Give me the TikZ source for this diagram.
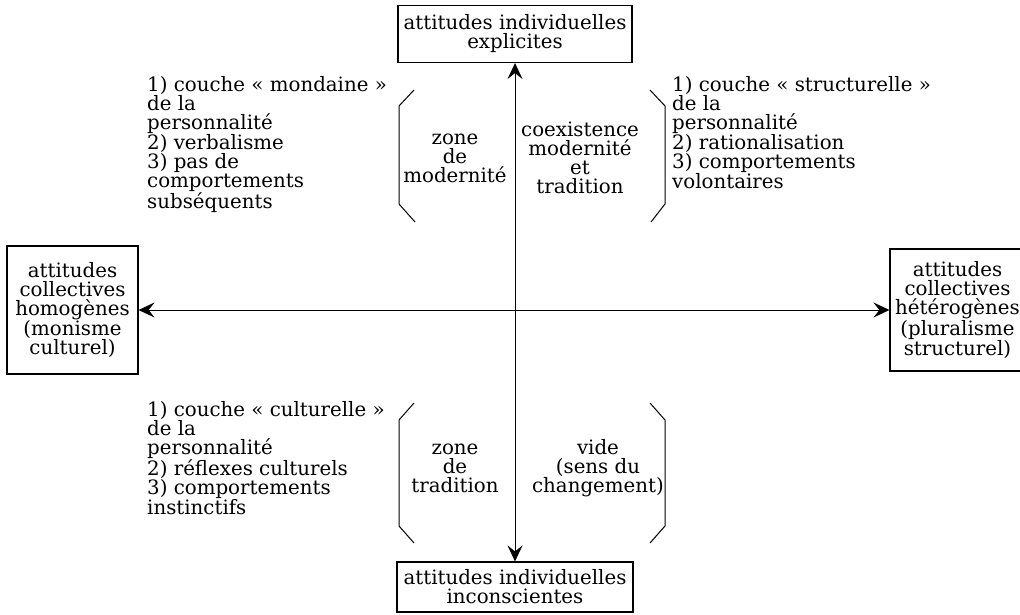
\documentclass[tikz,border=0pt]{standalone}
\usepackage{fontspec}
\newfontfamily\lbl{DejaVu Serif}
\usetikzlibrary{arrows.meta}
\tikzset{
  lf/.style={font=\lbl\fontsize{19.8}{19}\selectfont},
  box/.style={lf, draw, line width=1.1pt, align=center, inner sep=0pt},
  txt/.style={lf, align=left, inner sep=0pt, anchor=north west},
  zone/.style={lf, align=center, inner sep=0pt},
  axis/.style={line width=1pt, {Stealth[length=16pt,width=15pt,inset=6pt]}-{Stealth[length=16pt,width=15pt,inset=6pt]}},
  brk/.style={line width=1pt}
}
\begin{document}
\begin{tikzpicture}[x=1pt,y=-1pt]
\useasboundingbox (0,0) rectangle (1020,615);
\clip (0,0) rectangle (1020,615);
\node[box, minimum width=234, minimum height=57] (tb) at (515,34) {attitudes individuelles\\explicites};
\node[box, minimum width=236, minimum height=50] (bb) at (515,587) {attitudes individuelles\\inconscientes};
\node[box, minimum width=131, minimum height=128] (lb) at (72.5,310) {attitudes\\collectives\\homogènes\\(monisme\\culturel)};
\node[box, minimum width=135, minimum height=122] (rb) at (957.5,310) {attitudes\\collectives\\hétérogènes\\(pluralisme\\structurel)};
\draw[axis] (tb.south) -- (bb.north);
\draw[axis] (lb.east) -- (rb.west);
% brackets
\draw[brk] (414,90) -- (399,106) -- (399,204) -- (415,222);
\draw[brk] (650,90) -- (665,106) -- (665,204) -- (651,222);
\draw[brk] (414,403) -- (399,420) -- (399,526) -- (414,543);
\draw[brk] (650,403) -- (665,420) -- (665,526) -- (650,543);
% zone texts
\node[zone] (zm) at (455,158) {zone\\de\\modernité};
\node[zone] (cm) at (580,158) {coexistence\\modernité\\et\\tradition};
\node[zone] (zt) at (455,468) {zone\\de\\tradition};
\node[zone] (vd) at (598,468) {vide\\(sens du\\changement)};
% side texts
\node[txt] (ul) at (147,76) {1) couche « mondaine »\\de la\\personnalité\\2) verbalisme\\3) pas de\\comportements\\subséquents};
\node[txt] (ur) at (672,76) {1) couche « structurelle »\\de la\\personnalité\\2) rationalisation\\3) comportements\\volontaires};
\node[txt] (ll) at (147,401) {1) couche « culturelle »\\de la\\personnalité\\2) réflexes culturels\\3) comportements\\instinctifs};
\end{tikzpicture}
\end{document}
